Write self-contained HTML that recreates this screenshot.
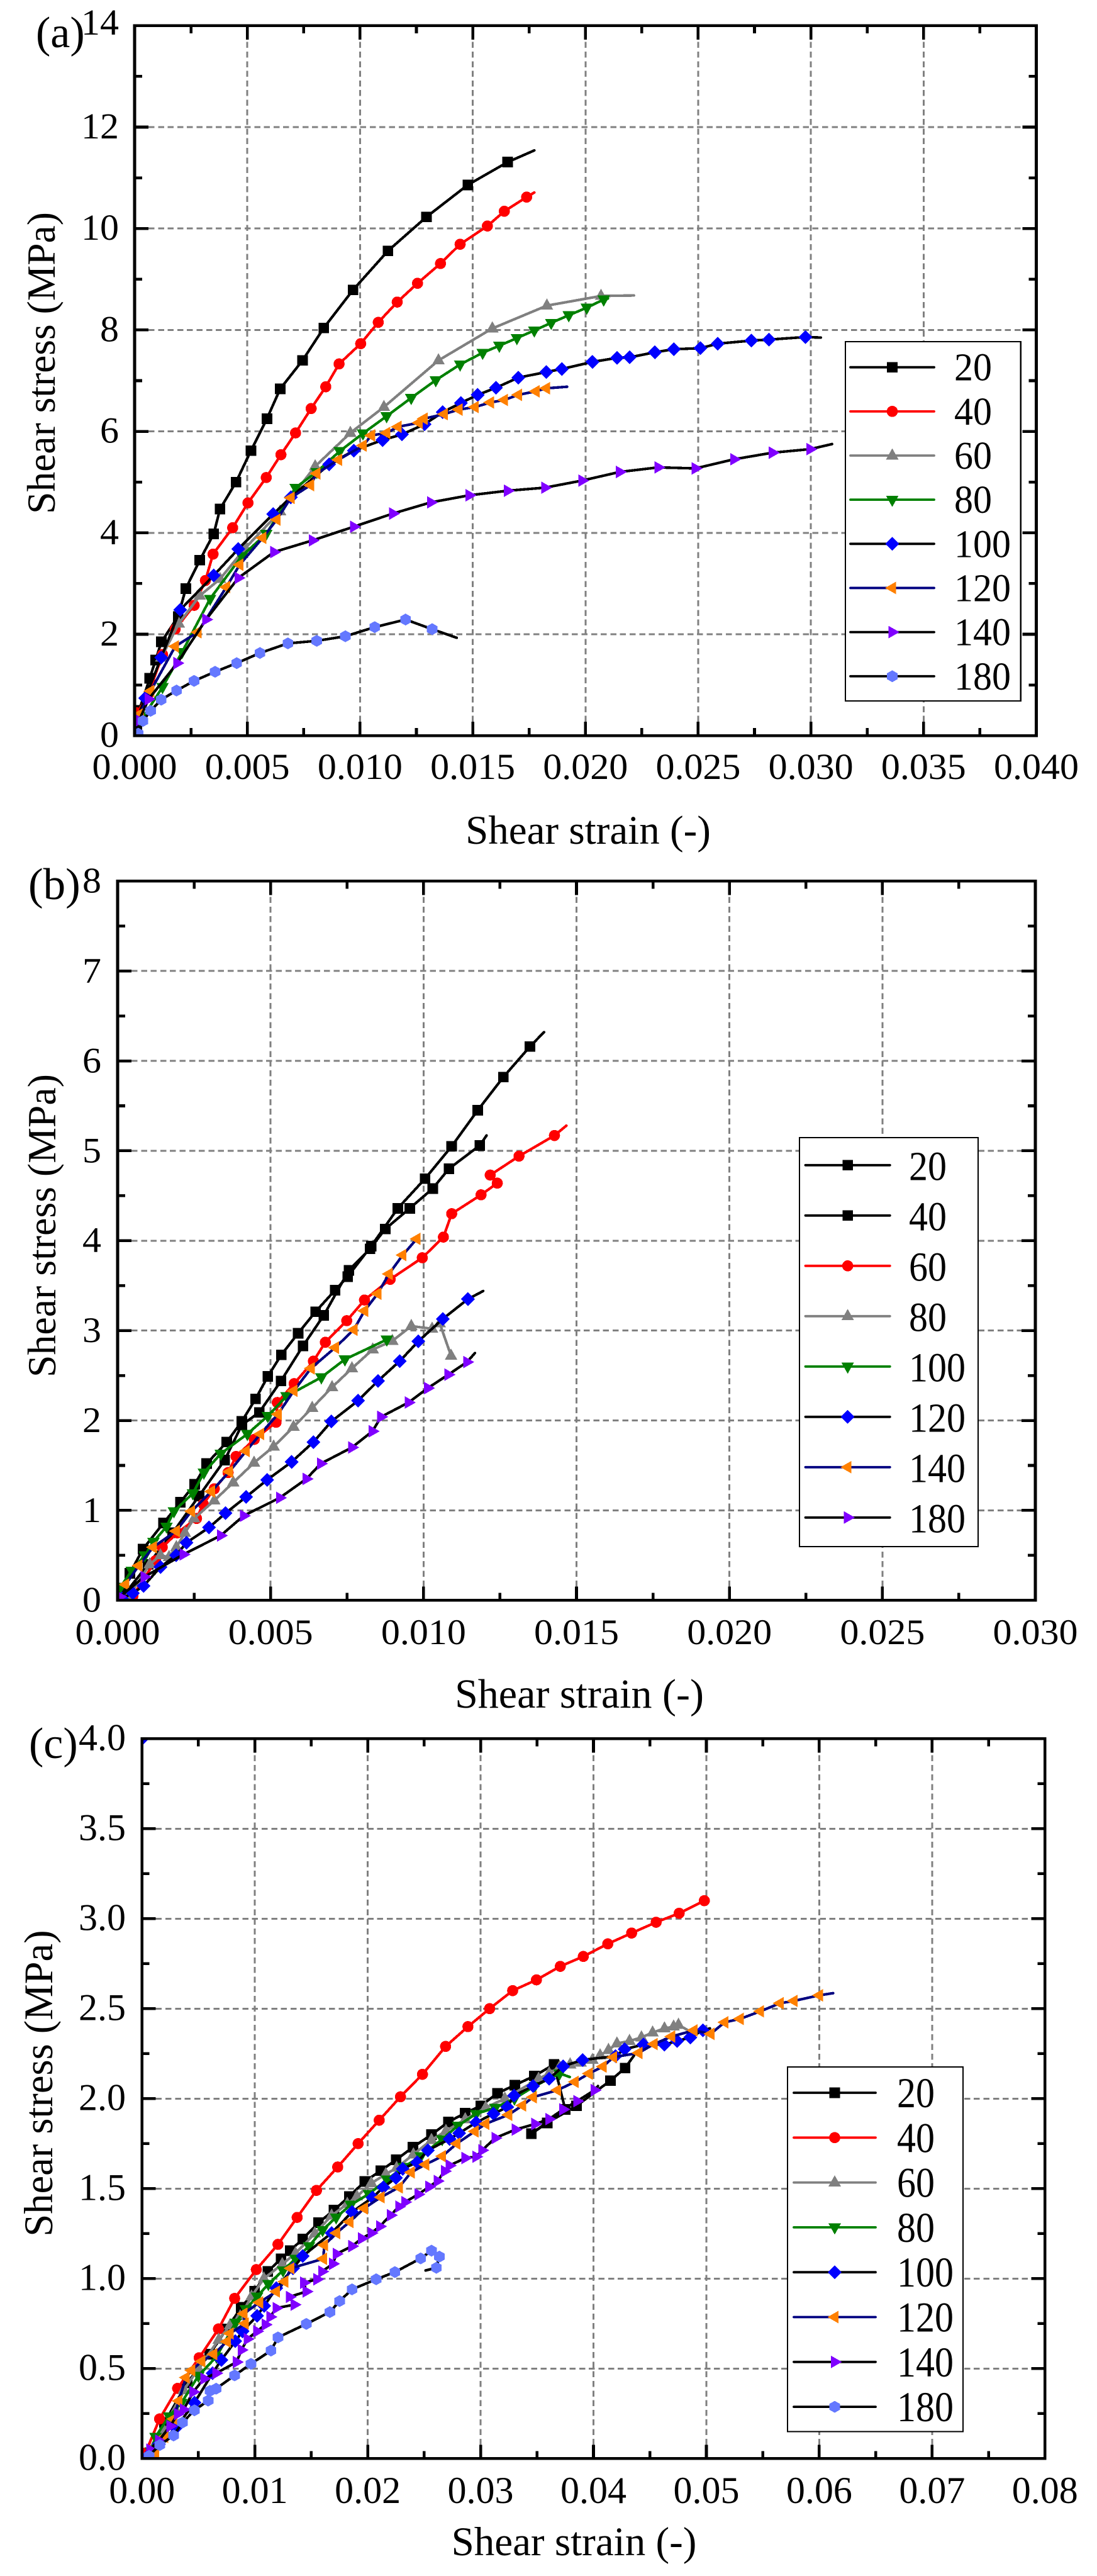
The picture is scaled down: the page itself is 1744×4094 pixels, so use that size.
<!DOCTYPE html>
<html lang="en">
<head>
<meta charset="utf-8">
<title>Shear stress versus shear strain at temperatures from 20 to 180</title>
<style>
html,body{margin:0;padding:0;background:#fff;}
svg{display:block;}
text{font-family:"Liberation Serif",serif;fill:#000;}
</style>
</head>
<body>
<svg id="chart" xmlns="http://www.w3.org/2000/svg" width="1744" height="4094" viewBox="0 0 1744 4094">
  <rect x="0" y="0" width="1744" height="4094" fill="#ffffff"/>
  <defs>
    <clipPath id="clip-a"><rect x="214" y="40.8" width="1433.5" height="1128.4"/></clipPath>
    <clipPath id="clip-b"><rect x="187" y="1400.3" width="1459" height="1143"/></clipPath>
    <clipPath id="clip-c"><rect x="225.7" y="2763.3" width="1435.6" height="1144"/></clipPath>
  </defs>
  <g id="panel-a">
    <text x="57" y="75" font-size="70">(a)</text>
    <text x="935" y="1341" font-size="65" text-anchor="middle">Shear strain (-)</text>
    <text transform="translate(87,577) rotate(-90)" font-size="63.5" text-anchor="middle">Shear stress (MPa)</text>
  </g>
  <g id="panel-b">
    <text x="45" y="1429" font-size="71">(b)</text>
    <text x="921" y="2714" font-size="66" text-anchor="middle">Shear strain (-)</text>
    <text transform="translate(88,1948) rotate(-90)" font-size="63.8" text-anchor="middle">Shear stress (MPa)</text>
  </g>
  <g id="panel-c">
    <text x="46" y="2794" font-size="70">(c)</text>
    <text x="912.5" y="4061" font-size="65" text-anchor="middle">Shear strain (-)</text>
    <text transform="translate(83,3311) rotate(-90)" font-size="64.5" text-anchor="middle">Shear stress (MPa)</text>
  </g>
</svg>
<script>
// ---------- Tick labels ----------
const aXTicks = ['0.000','0.005','0.010','0.015','0.020','0.025','0.030','0.035','0.040'];
const aYTicks = ['0','2','4','6','8','10','12','14'];
const bXTicks = ['0.000','0.005','0.010','0.015','0.020','0.025','0.030'];
const bYTicks = ['0','1','2','3','4','5','6','7','8'];
const cXTicks = ['0.00','0.01','0.02','0.03','0.04','0.05','0.06','0.07','0.08'];
const cYTicks = ['0.0','0.5','1.0','1.5','2.0','2.5','3.0','3.5','4.0'];
const categories = ['20','40','60','80','100','120','140','180'];

// ---------- Panel (a) ----------
const a20Strain = [0.0001,0.0002,0.00067,0.00093,0.00119,0.00193,0.00227,0.00289,0.00351,0.00379,0.0045,0.00516,0.00587,0.00646,0.00745,0.00839,0.00969,0.01124,0.01295,0.01478,0.01655,0.01773];
const a20Stress = [0.1,0.5,1.13,1.49,1.85,2.35,2.9,3.46,3.98,4.47,5.0,5.62,6.25,6.84,7.4,8.04,8.79,9.56,10.23,10.86,11.31,11.54];
const a40Strain = [0.0001,0.00056,0.00124,0.0018,0.00264,0.00314,0.00348,0.00435,0.00503,0.00584,0.00649,0.00714,0.00783,0.00848,0.00907,0.01003,0.01081,0.01165,0.01255,0.01357,0.01444,0.01565,0.0164,0.01739,0.01773];
const a40Stress = [0.45,0.76,1.6,2.1,2.57,3.06,3.58,4.1,4.59,5.09,5.54,5.97,6.45,6.88,7.33,7.73,8.15,8.55,8.92,9.31,9.69,10.05,10.34,10.62,10.71];
const a60Strain = [0.00118,0.00196,0.00289,0.00379,0.00491,0.00646,0.00801,0.00957,0.01106,0.01348,0.01587,0.01829,0.02069,0.02215];
const a60Stress = [1.54,2.21,2.76,3.09,3.7,4.42,5.31,5.97,6.48,7.4,8.03,8.48,8.67,8.68];
const a80Strain = [0.0004,0.00124,0.00211,0.00335,0.00475,0.00584,0.00714,0.00808,0.0091,0.01013,0.01118,0.01227,0.01336,0.01444,0.01544,0.01618,0.01696,0.01773,0.01848,0.01926,0.02006,0.02081,0.021];
const a80Stress = [0.38,0.96,1.65,2.7,3.54,3.98,4.89,5.2,5.61,5.96,6.3,6.66,7.01,7.32,7.55,7.69,7.84,7.99,8.14,8.29,8.44,8.6,8.62];
const a100Strain = [0.00009,0.00047,0.00118,0.00202,0.00351,0.0046,0.00615,0.00693,0.00863,0.00972,0.011,0.01186,0.01286,0.01367,0.01447,0.01522,0.01603,0.01702,0.01826,0.01895,0.02031,0.0214,0.02196,0.02308,0.02392,0.0251,0.02587,0.02736,0.02814,0.02976,0.03044];
const a100Stress = [0.32,0.74,1.54,2.48,3.16,3.68,4.37,4.7,5.35,5.62,5.83,5.94,6.14,6.38,6.56,6.72,6.86,7.06,7.17,7.23,7.37,7.45,7.46,7.56,7.62,7.64,7.73,7.79,7.81,7.86,7.85];
const a120Strain = [0.00025,0.00071,0.0018,0.0028,0.00407,0.00466,0.00568,0.00631,0.00693,0.0078,0.00808,0.00904,0.01013,0.0105,0.01118,0.01168,0.01261,0.01283,0.01373,0.01438,0.0151,0.01578,0.0164,0.01702,0.0178,0.01826,0.01919];
const a120Stress = [0.43,0.88,1.76,2.04,2.93,3.37,3.9,4.26,4.69,4.94,5.17,5.44,5.72,5.92,5.97,6.09,6.17,6.25,6.34,6.43,6.48,6.57,6.62,6.72,6.79,6.85,6.88];
const a140Strain = [0.0002,0.00062,0.00189,0.00317,0.0046,0.00618,0.00789,0.00972,0.01146,0.01314,0.01485,0.01655,0.0182,0.01985,0.02152,0.02323,0.02488,0.02659,0.0283,0.02997,0.03094];
const a140Stress = [0.3,0.72,1.43,2.29,3.11,3.62,3.85,4.12,4.38,4.6,4.74,4.83,4.89,5.03,5.2,5.29,5.27,5.45,5.58,5.65,5.75];
const a180Strain = [0.00016,0.00037,0.00071,0.00118,0.00186,0.00264,0.00357,0.00453,0.00556,0.0068,0.00808,0.00935,0.01065,0.01202,0.0132,0.01429];
const a180Stress = [0.04,0.29,0.49,0.71,0.89,1.08,1.26,1.43,1.63,1.82,1.87,1.96,2.14,2.29,2.1,1.93];

// ---------- Panel (b) ----------
const b20Strain = [0.0001,0.0004,0.00083,0.0015,0.00205,0.00252,0.00291,0.00357,0.00406,0.00451,0.00491,0.00535,0.0059,0.00647,0.00711,0.00752,0.00829,0.00916,0.01005,0.01092,0.01177,0.01261,0.01348,0.01394];
const b20Stress = [0.05,0.3,0.57,0.86,1.09,1.29,1.52,1.76,1.99,2.24,2.49,2.73,2.97,3.21,3.45,3.6,3.94,4.36,4.69,5.05,5.45,5.82,6.16,6.32];
const b40Strain = [0.0003,0.001,0.0018,0.00266,0.0035,0.00406,0.00463,0.00534,0.00606,0.00674,0.00756,0.00825,0.00875,0.00955,0.0103,0.01083,0.01184,0.01206];
const b40Stress = [0.1,0.4,0.75,1.16,1.56,1.95,2.09,2.44,2.83,3.17,3.67,3.91,4.13,4.36,4.58,4.8,5.06,5.17];
const b60Strain = [0.0001,0.0005,0.00124,0.00146,0.00195,0.00258,0.0028,0.00316,0.00361,0.00387,0.00447,0.00518,0.00522,0.00577,0.0064,0.00679,0.00749,0.00807,0.00891,0.00996,0.01065,0.01092,0.01188,0.01241,0.01218,0.01312,0.01428,0.01467];
const b60Stress = [0.0,0.05,0.44,0.59,0.75,0.91,1.07,1.24,1.42,1.6,1.79,1.98,2.2,2.41,2.66,2.87,3.11,3.34,3.57,3.81,4.04,4.3,4.51,4.64,4.73,4.94,5.17,5.28];
const b80Strain = [0.00034,0.00105,0.0014,0.00168,0.00192,0.0022,0.0025,0.00316,0.00378,0.00446,0.0051,0.00575,0.00636,0.00701,0.00766,0.00834,0.00898,0.0096,0.01028,0.01053,0.0109,0.0109];
const b80Stress = [0.03,0.4,0.5,0.48,0.59,0.75,0.91,1.11,1.31,1.53,1.71,1.93,2.14,2.37,2.58,2.79,2.885,3.05,3.02,3.08,2.72,2.72];
const b100Strain = [0.0001,0.00046,0.00089,0.00117,0.0016,0.00184,0.00246,0.00282,0.00337,0.00424,0.00491,0.00552,0.00666,0.00743,0.0088,0.0089];
const b100Stress = [0.15,0.33,0.5,0.65,0.82,0.99,1.19,1.42,1.63,1.85,2.05,2.27,2.48,2.68,2.9,2.92];
const b120Strain = [0.00014,0.0005,0.00085,0.0014,0.00191,0.00225,0.00299,0.00353,0.0042,0.00489,0.00569,0.0064,0.00699,0.00786,0.00851,0.00922,0.00983,0.01063,0.01145,0.01195];
const b120Stress = [0.02,0.08,0.16,0.37,0.5,0.64,0.81,0.97,1.15,1.34,1.54,1.76,1.99,2.22,2.44,2.66,2.88,3.13,3.35,3.44];
const b140Strain = [0.00026,0.00069,0.00116,0.00191,0.00241,0.00306,0.00365,0.0042,0.00467,0.00524,0.00576,0.00632,0.00711,0.00772,0.00807,0.0085,0.00887,0.00932,0.00978,0.00978];
const b140Stress = [0.175,0.385,0.59,0.77,0.99,1.21,1.43,1.66,1.85,2.07,2.33,2.58,2.81,3.01,3.22,3.41,3.63,3.84,4.02,4.02];
const b180Strain = [0.00007,0.00087,0.00215,0.00337,0.00412,0.0053,0.00617,0.00664,0.00766,0.00833,0.00861,0.00951,0.01014,0.01081,0.01142,0.01168];
const b180Stress = [0.04,0.26,0.51,0.72,0.94,1.14,1.35,1.52,1.7,1.88,2.04,2.2,2.36,2.51,2.65,2.75];

// ---------- Panel (c) ----------
const c20Strain = [0.0005,0.002,0.004,0.006,0.0075,0.0088,0.00998,0.01115,0.01232,0.01313,0.01424,0.01563,0.01701,0.01836,0.01974,0.02117,0.02252,0.02401,0.02565,0.02714,0.02864,0.03002,0.03151,0.03303,0.03477,0.0365,0.0375,0.0345,0.0359,0.0385,0.0415,0.0428,0.0436];
const c20Stress = [0.03,0.2,0.42,0.58,0.72,0.84,0.93,1.04,1.11,1.155,1.22,1.31,1.38,1.456,1.54,1.6,1.66,1.73,1.8,1.87,1.92,1.96,2.03,2.075,2.126,2.19,1.94,1.805,1.865,1.96,2.1,2.17,2.24];
const c40Strain = [0.0003,0.00156,0.00316,0.00507,0.00678,0.00821,0.01013,0.01205,0.01375,0.01546,0.01734,0.01915,0.02102,0.0229,0.02485,0.0269,0.02888,0.0308,0.03284,0.03495,0.03706,0.0391,0.04127,0.04338,0.04555,0.04759,0.04982,0.04982];
const c40Stress = [0.03,0.22,0.39,0.56,0.72,0.89,1.05,1.19,1.34,1.49,1.62,1.75,1.88,2.01,2.135,2.29,2.4,2.5,2.6,2.66,2.735,2.79,2.86,2.92,2.98,3.03,3.1,3.1];
const c60Strain = [0.001,0.002,0.003,0.0037,0.005,0.0068,0.0078,0.0087,0.0097,0.0108,0.01243,0.0136,0.01531,0.0168,0.01819,0.01904,0.02032,0.0216,0.02256,0.02405,0.02565,0.02693,0.02864,0.03045,0.03215,0.03514,0.03607,0.037,0.03793,0.03886,0.03991,0.04059,0.04133,0.04208,0.04319,0.04425,0.04524,0.04629,0.0471,0.04753,0.0485];
const c60Stress = [0.06,0.15,0.27,0.38,0.5,0.66,0.74,0.79,0.9,1.0,1.08,1.14,1.25,1.35,1.415,1.456,1.53,1.58,1.615,1.69,1.77,1.82,1.885,1.95,2.0,2.11,2.14,2.175,2.19,2.2,2.215,2.24,2.27,2.306,2.32,2.34,2.367,2.39,2.4,2.41,2.375];
const c80Strain = [0.0008,0.0012,0.0024,0.0035,0.005,0.0066,0.0083,0.0092,0.0102,0.0112,0.0125,0.0136,0.0148,0.016,0.0172,0.0185,0.0201,0.0217,0.0232,0.0247,0.0266,0.028,0.0296,0.0313,0.033,0.0348,0.037,0.0379];
const c80Stress = [0.04,0.12,0.235,0.31,0.46,0.566,0.756,0.83,0.9,0.97,1.045,1.11,1.18,1.27,1.34,1.41,1.47,1.55,1.62,1.68,1.775,1.85,1.915,1.95,2.0,2.07,2.14,2.12];
const c100Strain = [0.0006,0.0015,0.003,0.00465,0.00625,0.00704,0.00827,0.00891,0.01019,0.01083,0.0119,0.01339,0.01424,0.0168,0.01861,0.02043,0.02139,0.0225,0.0231,0.02437,0.02533,0.02725,0.0281,0.0296,0.03115,0.03237,0.03297,0.03464,0.03607,0.03731,0.03904,0.04195,0.04276,0.04443,0.04629,0.04741,0.04858,0.0497,0.05032];
const c100Stress = [0.02,0.08,0.17,0.31,0.474,0.548,0.652,0.707,0.793,0.848,0.947,1.057,1.125,1.253,1.37,1.45,1.507,1.56,1.61,1.646,1.713,1.775,1.808,1.867,1.916,1.953,2.017,2.07,2.11,2.18,2.215,2.236,2.275,2.3,2.3,2.32,2.34,2.38,2.39];
const c120Strain = [0.0012,0.002,0.0028,0.00326,0.0039,0.00439,0.00529,0.00635,0.00753,0.0078,0.00913,0.00902,0.0104,0.0119,0.01264,0.01318,0.01606,0.01616,0.01723,0.0184,0.01968,0.02117,0.02277,0.02384,0.02512,0.02661,0.02789,0.02949,0.03045,0.03247,0.03371,0.03464,0.03681,0.03836,0.0396,0.04084,0.04177,0.044,0.04536,0.04691,0.04889,0.05038,0.05162,0.05298,0.05478,0.05652,0.05776,0.06,0.06123];
const c120Stress = [0.02,0.12,0.22,0.32,0.45,0.49,0.54,0.58,0.65,0.695,0.75,0.805,0.867,0.928,0.983,1.057,1.11,1.186,1.253,1.315,1.39,1.452,1.507,1.59,1.634,1.68,1.75,1.818,1.86,1.91,1.962,2.008,2.047,2.093,2.139,2.178,2.23,2.254,2.303,2.345,2.379,2.36,2.424,2.443,2.485,2.53,2.543,2.574,2.586];
const c140Strain = [0.0007,0.0015,0.0025,0.00316,0.00369,0.00454,0.0055,0.00657,0.00838,0.00881,0.00934,0.01019,0.01094,0.01136,0.0119,0.0135,0.01307,0.01456,0.01435,0.01552,0.01595,0.01691,0.01723,0.01861,0.01947,0.02032,0.02107,0.02203,0.02277,0.0233,0.02448,0.02544,0.02618,0.02682,0.02725,0.02864,0.0296,0.03013,0.0313,0.03309,0.03483,0.03607,0.03731,0.03855,0.04009,0.0404];
const c140Stress = [0.05,0.1,0.18,0.247,0.272,0.37,0.444,0.474,0.536,0.603,0.664,0.707,0.744,0.787,0.836,0.855,0.898,0.928,0.977,0.996,1.039,1.082,1.137,1.18,1.223,1.253,1.29,1.352,1.4,1.425,1.468,1.51,1.542,1.597,1.628,1.67,1.677,1.713,1.781,1.828,1.859,1.886,1.94,1.986,2.047,2.07];
const c180Strain = [0.00063,0.00158,0.0028,0.00359,0.00465,0.00586,0.00603,0.00657,0.00821,0.00966,0.01143,0.01205,0.01456,0.01665,0.01751,0.01861,0.02075,0.02241,0.02469,0.02565,0.02635,0.02608,0.02512];
const c180Stress = [0.015,0.075,0.128,0.2,0.268,0.322,0.376,0.388,0.462,0.526,0.6,0.673,0.748,0.814,0.875,0.94,0.996,1.036,1.112,1.155,1.122,1.06,1.045];
const cStrayStrain = [0.0];
const cStrayStress = [4.0];

// ---------- Series styling (colours and marker kinds only) ----------
const RED = '#ff0000', GRAY = '#808080', GREEN = '#008000', BLUE = '#0000ff', NAVY = '#000080', ORANGE = '#ff8000', PURPLE = '#8000ff', PERI = '#6478ff', BLACK = '#000000';
const styleAC = [
  {line: BLACK, fill: BLACK, kind: 'square'},
  {line: RED, fill: RED, kind: 'circle'},
  {line: GRAY, fill: GRAY, kind: 'up'},
  {line: GREEN, fill: GREEN, kind: 'down'},
  {line: BLACK, fill: BLUE, kind: 'diamond'},
  {line: NAVY, fill: ORANGE, kind: 'left'},
  {line: BLACK, fill: PURPLE, kind: 'right'},
  {line: BLACK, fill: PERI, kind: 'hexagon'}
];
const styleB = [
  {line: BLACK, fill: BLACK, kind: 'square'},
  {line: BLACK, fill: BLACK, kind: 'square'},
  {line: RED, fill: RED, kind: 'circle'},
  {line: GRAY, fill: GRAY, kind: 'up'},
  {line: GREEN, fill: GREEN, kind: 'down'},
  {line: BLACK, fill: BLUE, kind: 'diamond'},
  {line: NAVY, fill: ORANGE, kind: 'left'},
  {line: BLACK, fill: PURPLE, kind: 'right'}
];

const SVG_NS = 'http://www.w3.org/2000/svg';
const MARKER_SCALE = 1.05;

function make(tag, parent, attrs) {
  const el = document.createElementNS(SVG_NS, tag);
  for (const k in attrs) el.setAttribute(k, attrs[k]);
  parent.appendChild(el);
  return el;
}

function markerPoints(kind, x, y) {
  const shapes = {
    square: [[-8,-8],[8,-8],[8,8],[-8,8]],
    up: [[0,-11],[9.5,6],[-9.5,6]],
    down: [[0,11],[9.5,-6],[-9.5,-6]],
    diamond: [[0,-10.5],[10.5,0],[0,10.5],[-10.5,0]],
    left: [[-11,0],[5.7,-9.5],[5.7,9.5]],
    right: [[11,0],[-5.7,-9.5],[-5.7,9.5]],
    hexagon: [[0,-9],[8,-4.5],[8,4.5],[0,9],[-8,4.5],[-8,-4.5]]
  };
  return shapes[kind].map(p => (x + p[0] * MARKER_SCALE) + ',' + (y + p[1] * MARKER_SCALE)).join(' ');
}

function drawMarker(parent, style, x, y) {
  let el;
  if (style.kind === 'circle') {
    el = make('circle', parent, {cx: x, cy: y, r: 8.4 * MARKER_SCALE, fill: style.fill, 'shape-rendering': 'crispEdges'});
  } else {
    el = make('polygon', parent, {points: markerPoints(style.kind, x, y), fill: style.fill, 'shape-rendering': 'crispEdges'});
  }
  return el;
}

function drawPanel(panel) {
  const root = document.getElementById(panel.id);
  const xMax = parseFloat(panel.xTicks[panel.xTicks.length - 1]);
  const yMax = parseFloat(panel.yTicks[panel.yTicks.length - 1]);
  const xScale = v => panel.left + v / xMax * (panel.right - panel.left);
  const yScale = v => panel.bottom - v / yMax * (panel.bottom - panel.top);
  const xMajor = panel.xTicks.map(parseFloat);
  const yMajor = panel.yTicks.map(parseFloat);

  // gridlines
  const grid = make('g', root, {stroke: '#808080', 'stroke-width': 3, 'stroke-dasharray': '9.5 5.8', fill: 'none', 'shape-rendering': 'crispEdges'});
  
  
  xMajor.slice(1, -1).forEach(v => {
    const g = make('line', grid, {x1: xScale(v), x2: xScale(v), y1: panel.bottom - 22, y2: panel.top + 22});
    
    
  });
  yMajor.slice(1, -1).forEach(v => {
    const g = make('line', grid, {x1: panel.left + 22, x2: panel.right - 22, y1: yScale(v), y2: yScale(v)});
    
    
  });

  // series
  const plot = make('g', root, {'clip-path': 'url(#' + panel.clip + ')'});
  
  
  panel.series.forEach((s, i) => {
    const style = panel.styles[i];
    const group = make('g', plot, {});
    
    
    group.setAttribute('data-temperature', categories[i]);
    const pts = s.x.map((v, j) => xScale(v) + ',' + yScale(s.y[j])).join(' ');
    const line = make('polyline', group, {points: pts, fill: 'none', stroke: style.line, 'stroke-width': 4.2, 'stroke-linejoin': 'round', 'stroke-linecap': 'round', 'shape-rendering': 'crispEdges'});
    
    
    s.x.slice(0, -1).forEach((v, j) => {
      const m = drawMarker(group, style, xScale(v), yScale(s.y[j]));
      
      
    });
  });
  if (panel.stray) {
    panel.stray.x.forEach((v, j) => {
      const m = drawMarker(plot, styleAC[4], xScale(v), yScale(panel.stray.y[j]));
      
      
    });
  }

  // ticks on all four sides
  const ticks = make('g', root, {stroke: '#000', 'stroke-width': 4.6, 'shape-rendering': 'crispEdges'});
  
  
  const addX = (v, len) => {
    const b = make('line', ticks, {x1: xScale(v), x2: xScale(v), y1: panel.bottom, y2: panel.bottom - len});
    
    
    const t = make('line', ticks, {x1: xScale(v), x2: xScale(v), y1: panel.top, y2: panel.top + len});
    
    
  };
  const addY = (v, len) => {
    const l = make('line', ticks, {x1: panel.left, x2: panel.left + len, y1: yScale(v), y2: yScale(v)});
    
    
    const r = make('line', ticks, {x1: panel.right, x2: panel.right - len, y1: yScale(v), y2: yScale(v)});
    
    
  };
  xMajor.forEach((v, i) => {
    addX(v, 22);
    if (i < xMajor.length - 1) addX((v + xMajor[i + 1]) / 2, 12);
  });
  yMajor.forEach((v, i) => {
    addY(v, 22);
    if (i < yMajor.length - 1) addY((v + yMajor[i + 1]) / 2, 12);
  });

  // frame
  const frame = make('rect', root, {x: panel.left, y: panel.top, width: panel.right - panel.left, height: panel.bottom - panel.top, fill: 'none', stroke: '#000', 'stroke-width': 4.8, 'shape-rendering': 'crispEdges'});
  
  

  // tick labels
  panel.xTicks.forEach((label, i) => {
    const t = make('text', root, {'font-size': 60, 'text-anchor': 'middle', transform: 'translate(' + xScale(xMajor[i]) + ',' + panel.xLabelY + ') scale(1,' + panel.tickSy + ')'});
    
    
    t.textContent = label;
  });
  panel.yTicks.forEach((label, i) => {
    const shift = i === panel.yTicks.length - 1 ? panel.topLabelShift : 0;
    const t = make('text', root, {'font-size': 60, 'text-anchor': 'end', transform: 'translate(' + panel.yLabelX + ',' + (yScale(yMajor[i]) + panel.yLabelDy + shift) + ') scale(1,' + panel.tickSy + ')'});
    
    
    t.textContent = label;
  });

  // legend
  const lg = panel.legend;
  const legend = make('g', root, {});
  
  
  const box = make('rect', legend, {x: lg.x, y: lg.y, width: lg.w, height: lg.h, fill: '#fff', stroke: '#000', 'stroke-width': 2.4, 'shape-rendering': 'crispEdges'});
  
  
  categories.forEach((label, i) => {
    const style = panel.styles[i];
    const y = lg.first + i * lg.step;
    const entry = make('g', legend, {});
    
    
    const line = make('line', entry, {x1: lg.lineX1, x2: lg.lineX2, y1: y, y2: y, stroke: style.line, 'stroke-width': 3.8, 'stroke-linecap': 'round'});
    
    
    const m = drawMarker(entry, style, (lg.lineX1 + lg.lineX2) / 2, y);
    
    
    const t = make('text', entry, {'font-size': 60, transform: 'translate(' + lg.textX + ',' + (y + lg.textDy) + ') scale(1,' + lg.sy + ')'});
    
    
    t.textContent = label;
  });
}

drawPanel({
  id: 'panel-a', clip: 'clip-a', left: 214, right: 1647.5, top: 40.8, bottom: 1169.2,
  xTicks: aXTicks, yTicks: aYTicks, styles: styleAC,
  xLabelY: 1238, yLabelX: 189, yLabelDy: 18, tickSy: 0.97, topLabelShift: -4,
  series: [
    {x: a20Strain, y: a20Stress}, {x: a40Strain, y: a40Stress}, {x: a60Strain, y: a60Stress}, {x: a80Strain, y: a80Stress},
    {x: a100Strain, y: a100Stress}, {x: a120Strain, y: a120Stress}, {x: a140Strain, y: a140Stress}, {x: a180Strain, y: a180Stress}
  ],
  legend: {x: 1344, y: 543, w: 278.7, h: 571, first: 583.7, step: 70.15, lineX1: 1352, lineX2: 1485, textX: 1517, textDy: 21, sy: 1.05}
});

drawPanel({
  id: 'panel-b', clip: 'clip-b', left: 187, right: 1646, top: 1400.3, bottom: 2543.3,
  xTicks: bXTicks, yTicks: bYTicks, styles: styleB,
  xLabelY: 2613, yLabelX: 161, yLabelDy: 18.4, tickSy: 0.95, topLabelShift: 0,
  series: [
    {x: b20Strain, y: b20Stress}, {x: b40Strain, y: b40Stress}, {x: b60Strain, y: b60Stress}, {x: b80Strain, y: b80Stress},
    {x: b100Strain, y: b100Stress}, {x: b120Strain, y: b120Stress}, {x: b140Strain, y: b140Stress}, {x: b180Strain, y: b180Stress}
  ],
  legend: {x: 1271, y: 1808, w: 284, h: 650, first: 1851.8, step: 80, lineX1: 1280.5, lineX2: 1414.8, textX: 1445, textDy: 23.5, sy: 1.1}
});

drawPanel({
  id: 'panel-c', clip: 'clip-c', left: 225.7, right: 1661.3, top: 2763.3, bottom: 3907.3,
  xTicks: cXTicks, yTicks: cYTicks, styles: styleAC,
  xLabelY: 3978, yLabelX: 200, yLabelDy: 18.4, tickSy: 1, topLabelShift: 0,
  series: [
    {x: c20Strain, y: c20Stress}, {x: c40Strain, y: c40Stress}, {x: c60Strain, y: c60Stress}, {x: c80Strain, y: c80Stress},
    {x: c100Strain, y: c100Stress}, {x: c120Strain, y: c120Stress}, {x: c140Strain, y: c140Stress}, {x: c180Strain, y: c180Stress}
  ],
  stray: {x: cStrayStrain, y: cStrayStress},
  legend: {x: 1252, y: 3285, w: 279, h: 579.5, first: 3326, step: 71.3, lineX1: 1262, lineX2: 1392, textX: 1426, textDy: 23, sy: 1.13}
});
</script>
</body>
</html>
